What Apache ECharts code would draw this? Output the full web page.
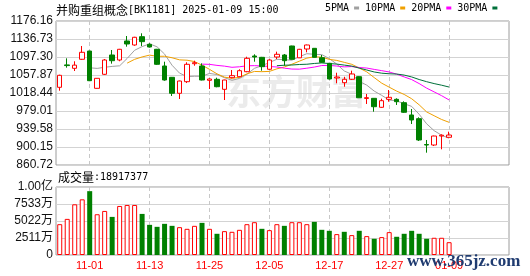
<!DOCTYPE html>
<html><head><meta charset="utf-8">
<script src="https://cdn.jsdelivr.net/npm/echarts@6/dist/echarts.min.js"></script>
<style>html,body{margin:0;padding:0;background:#fff}#c{width:530px;height:276px}</style>
</head><body><div id="c"></div>
<script>
const boardName = '并购重组概念';
const boardCode = 'BK1181';
const lastTime = '2025-01-09 15:00';
const dates = ['10-28','10-29','10-30','10-31','11-01','11-04','11-05','11-06','11-07','11-08','11-11','11-12','11-13','11-14','11-15','11-18','11-19','11-20','11-21','11-22','11-25','11-26','11-27','11-28','11-29','12-02','12-03','12-04','12-05','12-06','12-09','12-10','12-11','12-12','12-13','12-16','12-17','12-18','12-19','12-20','12-23','12-24','12-25','12-26','12-27','12-30','12-31','01-02','01-03','01-06','01-07','01-08','01-09'];
const opens = [1030.9,1080.0,1072.5,1092.3,1110.4,1028.7,1059.4,1101.7,1090.7,1132.4,1123.6,1141.8,1125.1,1114.2,1077.6,1052.8,1017.8,1043.2,1082.6,1077.6,1046.2,1048.4,1026.5,1052.0,1054.2,1065.1,1099.5,1096.6,1070.4,1097.3,1101.7,1121.4,1095.5,1114.8,1116.3,1095.8,1083.5,1051.3,1041.0,1048.5,1054.2,1006.5,1006.8,987.1,1004.6,1004.6,997.2,970.3,962.2,905.5,904.5,924.2,921.4];
const closes = [1057.2,1078.5,1079.5,1107.6,1045.4,1050.6,1090.7,1089.2,1114.2,1125.8,1140.5,1130.9,1119.2,1081.3,1046.9,1017.8,1044.7,1081.3,1084.8,1046.9,1049.1,1032.2,1046.9,1056.4,1067.3,1094.4,1097.3,1076.1,1090.7,1103.2,1089.2,1092.3,1114.2,1123.6,1096.6,1085.7,1049.1,1053.5,1048.5,1060.1,1008.0,1008.2,988.4,1001.6,1009.0,999.4,976.2,959.3,915.5,904.5,924.2,926.0,926.4];
const lows = [1023.5,1073.9,1066.6,1091.0,1044.5,1028.0,1057.9,1082.7,1088.0,1119.9,1122.0,1121.4,1118.0,1080.0,1045.4,1011.9,1005.3,1040.3,1078.2,1046.0,1027.2,1031.0,1003.1,1050.6,1053.0,1064.0,1087.0,1067.3,1069.0,1092.9,1078.2,1091.5,1095.0,1107.6,1096.0,1084.8,1048.0,1039.7,1032.2,1047.0,1007.5,994.4,977.5,986.0,999.4,992.2,975.0,950.5,913.3,887.7,902.3,895.1,921.0];
const highs = [1058.5,1094.4,1087.9,1121.4,1111.0,1051.0,1092.9,1112.6,1115.0,1143.3,1141.5,1149.2,1127.3,1115.0,1087.0,1053.5,1045.5,1085.7,1089.2,1083.5,1050.6,1052.0,1047.5,1068.8,1070.4,1097.9,1103.2,1097.5,1092.3,1109.0,1103.9,1122.0,1115.0,1124.5,1117.0,1101.7,1084.5,1062.9,1054.0,1067.3,1055.0,1016.3,1007.5,1006.0,1025.0,1006.8,1000.2,983.4,965.2,915.5,925.0,927.9,933.7];
const volumes = [45520000,53350000,74890000,82230000,94300000,60210000,65100000,56290000,72440000,73910000,73910000,60690000,44540000,41610000,46010000,43070000,41120000,38670000,43070000,47480000,38670000,31330000,35240000,34260000,37200000,45520000,48460000,38670000,36710000,45520000,43070000,48460000,48460000,45520000,48950000,37200000,35730000,30840000,34260000,29370000,35730000,27900000,23980000,26430000,33770000,26920000,31330000,35730000,31330000,23980000,25450000,25450000,18917377];
const priceTicks = ['860.72','900.15','939.58','979.01','1018.44','1057.87','1097.30','1136.73','1176.16'];
const volumeTicks = ['0','2511万','5022万','7533万','1.00亿'];
const volumeMax = 100440000;
const dateTicks = ['11-01','11-13','11-25','12-05','12-17','12-27','01-09'];
const maNames = ['5PMA','10PMA','20PMA','30PMA'];
const maPeriods = [5,10,20,30];
const emptySlots = 8;
</script>
<script>
const chart = echarts.init(document.getElementById('c'), null, {renderer: 'canvas'});
const n = dates.length;
const cats = dates.concat(Array.from({length: emptySlots}, (_, k) => 'pad' + k));
const frameLeft = 56, frameWidth = 453;
const slot = frameWidth / (cats.length - 0.5);
const dataLeft = frameLeft + slot / 2;
const dataWidth = slot * (cats.length - 1);
const mainTop = 21, mainH = 144, volTop = 187, volH = 68;
const RED = '#ff0000', GREEN = '#008000';
const maColors = ['#a0a0a0', '#f0a000', '#ff00ff', '#00703a'];

function movingAverage(p) {
  return closes.map((c, i) => {
    if (i < p - 1) return '-';
    let s = 0;
    for (let k = i - p + 1; k <= i; k++) s += closes[k];
    return +(s / p).toFixed(2);
  });
}
const candleData = dates.map((d, i) => [opens[i], closes[i], lows[i], highs[i]]);
const isUp = i => (i === 0 ? closes[0] >= opens[0] : closes[i] >= closes[i - 1]);
const volData = volumes.map((v, i) => ({
  value: v,
  itemStyle: isUp(i) ? {color: '#ffffff', borderColor: RED, borderWidth: 1} : {color: GREEN, borderColor: GREEN, borderWidth: 0}
}));

const dashed = {show: true, interval: (i, v) => dateTicks.indexOf(v) >= 0, lineStyle: {color: '#c8c8c8', type: [4, 3], width: 1}};
const monoRich = {
  c: {fontFamily: 'Noto Sans CJK SC', fontSize: 12, fontWeight: 'normal', color: '#000', lineHeight: 14},
  a: {fontFamily: 'DejaVu Sans Mono', fontSize: 10, fontWeight: 'normal', color: '#000', lineHeight: 14}
};

const option = {
  animation: false,
  backgroundColor: '#ffffff',
  title: [
    {left: frameLeft, top: 3, padding: 0, text: '{c|' + boardName + '}{a|[' + boardCode + '] ' + lastTime + '}', textStyle: {fontWeight: 'normal', rich: monoRich}},
    {left: 58, top: 170, padding: 0, text: '{c|成交量}{a|:' + volumes[n - 1] + '}', textStyle: {fontWeight: 'normal', rich: monoRich}}
  ],
  legend: {
    left: 325, top: 3, padding: 0, align: 'right', icon: 'rect', itemWidth: 5, itemHeight: 3, itemGap: 6,
    selectedMode: false, data: maNames,
    textStyle: {fontFamily: 'DejaVu Sans Mono', fontSize: 10, color: '#000'}
  },
  graphic: [
    {type: 'text', left: 226, top: 74, z: -1, silent: true,
     style: {text: '东方财富', font: 'bold 35px "Noto Sans CJK SC"', fill: '#ebebeb'}},
    {type: 'text', left: 407, top: 253, z: 100, silent: true,
     style: {text: 'www.365jz.com', font: 'bold 17px "Liberation Serif"', fill: '#1f3b70'}}
  ],
  grid: [
    {left: frameLeft, top: mainTop, width: frameWidth, height: mainH, show: true, borderColor: '#9c9c9c', borderWidth: 1, backgroundColor: 'transparent'},
    {left: dataLeft, top: mainTop, width: dataWidth, height: mainH},
    {left: frameLeft, top: volTop, width: frameWidth, height: volH, show: true, borderColor: '#9c9c9c', borderWidth: 1, backgroundColor: 'transparent'},
    {left: dataLeft, top: volTop, width: dataWidth, height: volH}
  ],
  xAxis: [
    {gridIndex: 0, type: 'value', show: false},
    {gridIndex: 1, type: 'category', data: cats, boundaryGap: false, axisLine: {show: false}, axisTick: {show: false}, axisLabel: {show: false}, splitLine: dashed},
    {gridIndex: 2, type: 'value', show: false},
    {gridIndex: 3, type: 'category', data: cats, boundaryGap: false, axisLine: {show: false}, axisTick: {show: false},
     axisLabel: {show: true, interval: (i, v) => dateTicks.indexOf(v) >= 0, color: RED, fontFamily: 'Liberation Sans', fontSize: 11, margin: 5},
     splitLine: dashed}
  ],
  yAxis: [
    {gridIndex: 0, type: 'value', min: 0, max: priceTicks.length - 1, interval: 1,
     axisLine: {show: false}, axisTick: {show: false},
     axisLabel: {formatter: v => priceTicks[v], color: '#111', fontFamily: 'Liberation Sans', fontSize: 12, margin: 3},
     splitLine: {show: true, lineStyle: {color: '#d3d3d3', width: 1}}},
    {gridIndex: 1, type: 'value', min: parseFloat(priceTicks[0]), max: parseFloat(priceTicks[priceTicks.length - 1]), show: false, splitLine: {show: false}},
    {gridIndex: 2, type: 'value', min: 0, max: volumeTicks.length - 1, interval: 1,
     axisLine: {show: false}, axisTick: {show: false},
     axisLabel: {formatter: v => volumeTicks[v], color: '#111', fontFamily: 'Liberation Sans, Noto Sans CJK SC', fontSize: 12, margin: 3},
     splitLine: {show: true, lineStyle: {color: '#d3d3d3', width: 1}}},
    {gridIndex: 3, type: 'value', min: 0, max: volumeMax, show: false, splitLine: {show: false}}
  ],
  series: [
    {type: 'candlestick', xAxisIndex: 1, yAxisIndex: 1, data: candleData, barWidth: 5, z: 4,
     itemStyle: {color: '#ffffff', color0: GREEN, borderColor: RED, borderColor0: GREEN, borderWidth: 1}},
    ...maPeriods.map((p, k) => ({
      name: maNames[k], type: 'line', xAxisIndex: 1, yAxisIndex: 1, data: movingAverage(p),
      showSymbol: false, symbol: 'none', silent: true, z: 3,
      lineStyle: {color: maColors[k], width: 1}, itemStyle: {color: maColors[k]}
    })),
    {type: 'bar', xAxisIndex: 3, yAxisIndex: 3, data: volData, barWidth: 5}
  ]
};
chart.setOption(option);
</script>
</body></html>
